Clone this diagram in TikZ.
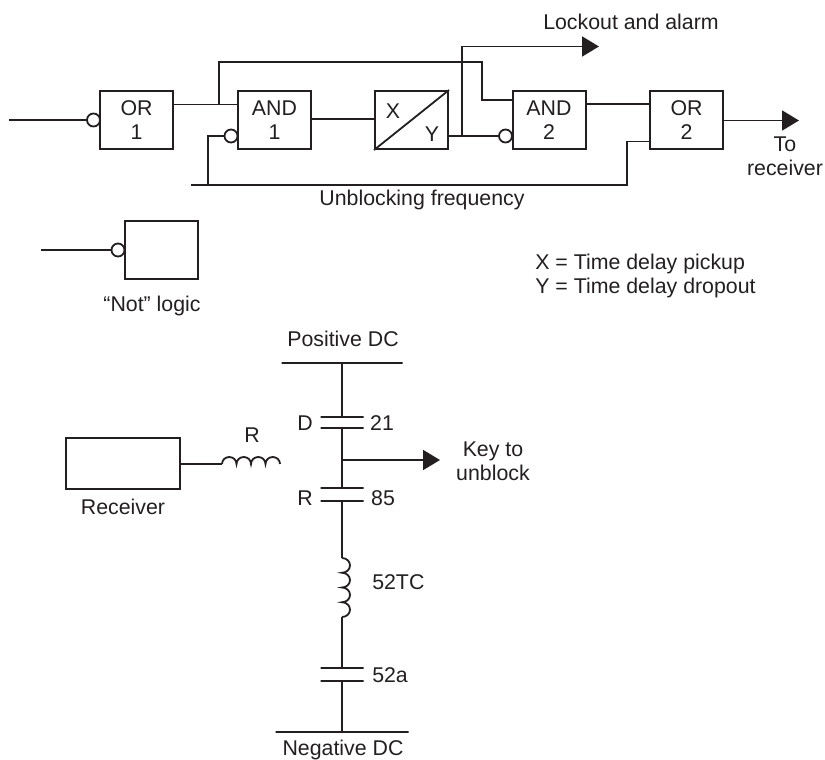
\documentclass[tikz,border=0pt]{standalone}
\usepackage{xcolor}
\usepackage{fontspec}
\usepackage{tikz}
\usetikzlibrary{arrows.meta}
\setmainfont{Liberation Sans}
\definecolor{ink}{HTML}{231F20}

\begin{document}
\begin{tikzpicture}[
    x=0.75pt, y=-0.75pt,
    every node/.style={font=\fontsize{16}{18}\selectfont, text=ink},
    gate/.style={rectangle, draw=ink, fill=white, line width=1.5pt, minimum width=54.75pt, minimum height=43.5pt, align=center, inner sep=0pt},
    notbubble/.style={circle, draw=ink, fill=white, line width=1.35pt, minimum size=9.75pt, inner sep=0pt},
    plate/.style={rectangle, draw=ink, line width=1.2pt, minimum width=32.25pt, minimum height=0pt, inner sep=0pt, outer sep=0pt},
    bus/.style={plate, minimum width=#1},
    wire/.style={draw=ink, line width=1.35pt},
    outwire/.style={wire, -{Triangle[length=12.75pt, width=15pt]}},
    txt/.style={align=center, inner sep=0pt}
]
    \useasboundingbox (0,0) rectangle (825,760);

    % Logic gates
    \node[gate] (or1) at (136.5,120) {OR\\1};
    \node[gate] (and1) at (274.5,120) {AND\\1};
    \node[gate] (delay) at (411.5,120) {};
    \node[gate] (and2) at (549,120) {AND\\2};
    \node[gate] (or2) at (686.5,120) {OR\\2};
    \node[gate] (notgate) at (161.5,250) {};
    \node[gate, minimum width=85.5pt, minimum height=38.25pt] (receiver) at (123,463.5) {};

    % Negated inputs
    \node[notbubble] (or1not) at (93.5,120) {};
    \node[notbubble] (and1not) at (231,136) {};
    \node[notbubble] (and2not) at (505.5,136) {};
    \node[notbubble] (notnot) at (118,250) {};

    % Junctions and free ends
    \coordinate (start) at (9,120);
    \coordinate (notstart) at (41,250);
    \coordinate (orjoin) at (219,104.5);
    \coordinate (topleft) at (219,62);
    \coordinate (topright) at (482,62);
    \coordinate (and2in) at (482,100);
    \coordinate (delayjoin) at (462,136);
    \coordinate (alarmcorner) at (462,46.5);
    \coordinate (alarmtip) at (599,46.5);
    \coordinate (ubleft) at (191,185);
    \coordinate (ubjoin) at (208,185);
    \coordinate (ubcorner) at (208,136);
    \coordinate (ubright) at (627,185);
    \coordinate (or2in) at (627,141.5);
    \coordinate (or2tip) at (799,120.5);

    % Logic wiring
    \draw[wire] (start) -- (or1not);
    \draw[wire] (notstart) -- (notnot);
    \draw[wire] (or1.east |- orjoin) -- (and1.west |- orjoin);
    \draw[wire] (orjoin) -- (topleft) -- (topright) -- (and2in) -- (and2.west |- and2in);
    \draw[wire] (and1.east |- 0,119) -- (delay.west |- 0,119);
    \draw[wire] (delay.east |- delayjoin) -- (and2not);
    \draw[outwire] (delayjoin) -- (alarmcorner) -- (alarmtip);
    \draw[wire] (and2.east |- 0,104) -- (or2.west |- 0,104);
    \draw[outwire] (or2.east |- or2tip) -- (or2tip);
    \draw[wire] (and1not) -- (ubcorner) -- (ubjoin);
    \draw[wire] (ubleft) -- (ubright) -- (or2in) -- (or2.west |- or2in);
    \draw[wire] (delay.south west) -- (delay.north east);

    % Logic labels
    \node[txt] (xlabel) at (393,111) {X};
    \node[txt] (ylabel) at (432,134) {Y};
    \node[txt] (alarmtext) at (631,22) {Lockout and alarm};
    \node[txt] (totext) at (785,156) {To\\receiver};
    \node[txt] (ubtext) at (422,200) {Unblocking frequency};
    \node[txt] (nottext) at (152,306) {``Not'' logic};
    \node[txt, align=left, anchor=north west] (legend) at (535,254) {X = Time delay pickup\\Y = Time delay dropout};

    % Trip circuit
    \node[bus=90.75pt] (posbus) at (342,363) {};
    \node[plate] (d1) at (342,417) {};
    \node[plate] (d2) at (342,428) {};
    \node[plate] (r1) at (342,488) {};
    \node[plate] (r2) at (342,501) {};
    \node[plate] (a1) at (342,668) {};
    \node[plate] (a2) at (342,681) {};
    \node[bus=99.75pt] (negbus) at (342,732) {};
    \coordinate (keyjoin) at (342,460);
    \coordinate (keytip) at (440,460);
    \coordinate (coiltop) at (342,558);
    \coordinate (coilbottom) at (342,617);
    \coordinate (rcoilstart) at (222,464);

    \draw[wire] (posbus) -- (d1);
    \draw[wire] (d2) -- (keyjoin) -- (r1);
    \draw[outwire] (keyjoin) -- (keytip);
    \draw[wire] (r2) -- (coiltop);
    \draw[wire] (coilbottom) -- (a1);
    \draw[wire] (a2) -- (negbus);
    \draw[wire] (receiver.east |- rcoilstart) -- (rcoilstart);

    % Coils
    \draw[wire] (rcoilstart) \foreach \i in {1,...,4} {arc[start angle=180, end angle=360, x radius=7.25, y radius=7]};
    \draw[wire] (coiltop) \foreach \i in {1,...,4} {arc[start angle=270, end angle=450, x radius=8, y radius=7.375]};

    % Circuit labels
    \node[txt] (postext) at (343,339) {Positive DC};
    \node[txt] (negtext) at (343,750) {Negative DC};
    \node[txt] (dtext) at (305,423) {D};
    \node[txt] (t21) at (382,423) {21};
    \node[txt] (rtext) at (305,498) {R};
    \node[txt] (t85) at (383,498) {85};
    \node[txt] (keytext) at (493,461) {Key to\\unblock};
    \node[txt] (rcoiltext) at (252,435) {R};
    \node[txt] (rectext) at (123,507) {Receiver};
    \node[txt, anchor=west] (tctext) at (372,582) {52TC};
    \node[txt, anchor=west] (atext) at (372,675) {52a};
\end{tikzpicture}
\end{document}
